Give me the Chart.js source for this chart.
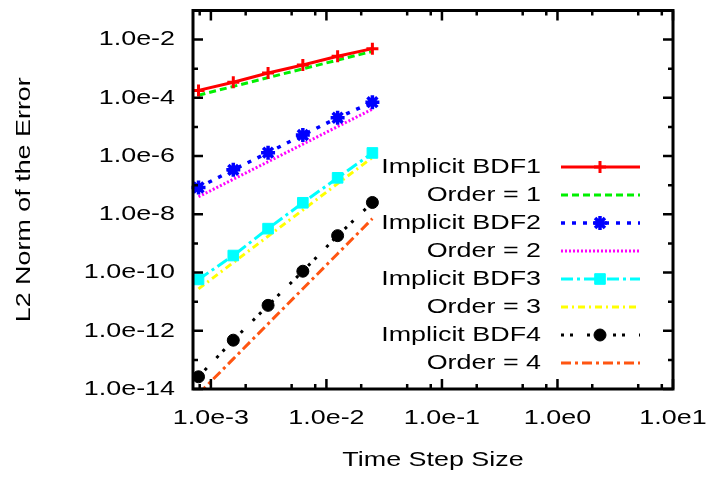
<!DOCTYPE html>
<html>
<head>
<meta charset="utf-8">
<script src="https://cdn.jsdelivr.net/npm/chart.js@4.4.1/dist/chart.umd.min.js"></script>
<style>
  html, body { margin: 0; padding: 0; background: #fff; }
  canvas { display: block; }
</style>
</head>
<body>
<canvas id="errChart" width="711" height="483"></canvas>
<script>
// time step sizes (x) and L2 error for each scheme / reference slope
const stepSizes = [0.00078125, 0.0015625, 0.003125, 0.00625, 0.0125, 0.025];

const bdf1   = [1.8e-4, 3.45e-4, 7.1e-4, 1.35e-3, 2.7e-3, 4.9e-3];
const order1 = [1.23e-4, 2.47e-4, 4.94e-4, 9.9e-4, 1.98e-3, 3.95e-3];
const bdf2   = [8.3e-8, 3.36e-7, 1.31e-6, 5.3e-6, 2.07e-5, 7.1e-5];
const order2 = [4.0e-8, 1.6e-7, 6.4e-7, 2.56e-6, 1.03e-5, 4.1e-5];
const bdf3   = [5.8e-11, 3.84e-10, 3.22e-9, 2.49e-8, 1.79e-7, 1.28e-6];
const order3 = [2.75e-11, 2.2e-10, 1.76e-9, 1.41e-8, 1.13e-7, 9.0e-7];
const bdf4   = [2.63e-14, 4.75e-13, 7.46e-12, 1.11e-10, 1.85e-9, 2.55e-8];
const order4 = [6.75e-15, 1.08e-13, 1.73e-12, 2.77e-11, 4.43e-10, 7.08e-9];

const xTicks = [1e-3, 1e-2, 1e-1, 1e0, 1e1];
const yTicks = [1e-14, 1e-12, 1e-10, 1e-8, 1e-6, 1e-4, 1e-2];

const FONT = '"Liberation Sans", Arial, Helvetica, sans-serif';
const TEXT_STRETCH = 1.28; // the original text is drawn in a wide face

const canvas = document.getElementById('errChart');
const ctx = canvas.getContext('2d');

// widen every text run around its anchor point
const rawFillText = ctx.fillText.bind(ctx);
ctx.fillText = function (txt, x, y) {
    ctx.save();
    ctx.translate(x, y);
    ctx.scale(TEXT_STRETCH, 1);
    rawFillText(txt, 0, 0);
    ctx.restore();
};

function pts(ys) {
    return stepSizes.map((h, i) => ({ x: h, y: ys[i] }));
}

function expLabel(v) {
    return '1.0e' + Math.round(Math.log10(v));
}

function series(label, ys, color, width, dash, marker, radius, fill, markerWidth) {
    return {
        label: label,
        data: pts(ys),
        borderColor: color,
        borderWidth: width,
        borderDash: dash,
        pointStyle: marker || 'circle',
        pointRadius: marker ? radius : 0,
        pointHoverRadius: marker ? radius : 0,
        pointBorderColor: color,
        pointBackgroundColor: fill ? color : 'rgba(0,0,0,0)',
        pointBorderWidth: markerWidth || 1,
        fill: false
    };
}

const datasets = [
    series('Implicit BDF1', bdf1, '#ff0000', 3, [], 'cross', 6, false, 3),
    series('Order = 1', order1, '#00f000', 3, [7, 4]),
    series('Implicit BDF2', bdf2, '#0000ff', 3.5, [4, 7], 'star', 7, false, 3.5),
    series('Order = 2', order2, '#ff00ff', 3, [2, 2]),
    series('Implicit BDF3', bdf3, '#00ffff', 3, [12, 4, 3, 4], 'rect', 7.5, true, 1),
    series('Order = 3', order3, '#ffff00', 3, [7, 4, 2, 4]),
    series('Implicit BDF4', bdf4, '#000000', 3, [3, 6, 3, 14], 'circle', 6, true, 1),
    series('Order = 4', order4, '#ff5511', 3, [10, 4, 3, 4])
];
datasets[7].clip = 0;

// inward tick marks, frame and tick labels (gnuplot style)
const frameTicks = {
    id: 'frameTicks',
    afterDatasetsDraw(chart) {
        const c = chart.ctx;
        const a = chart.chartArea;
        const x = chart.scales.x, y = chart.scales.y;
        c.save();
        c.setLineDash([]);
        c.strokeStyle = '#000';
        c.lineWidth = 2.5;
        c.beginPath();
        for (let e = -14; e <= -1; e++) {
            const py = y.getPixelForValue(Math.pow(10, e));
            const len = e % 2 === 0 ? 10 : 5;
            c.moveTo(a.left, py); c.lineTo(a.left + len, py);
            c.moveTo(a.right, py); c.lineTo(a.right - len, py);
        }
        for (let e = -4; e <= 1; e++) {
            [1, 2, 5, 8].forEach(m => {
                const v = Math.pow(10, e) * m;
                if (v < x.min || v > x.max) return;
                const px = x.getPixelForValue(v);
                const len = m === 1 ? 10 : 5;
                c.moveTo(px, a.bottom); c.lineTo(px, a.bottom - len);
                c.moveTo(px, a.top); c.lineTo(px, a.top + len);
            });
        }
        c.stroke();
        c.lineWidth = 3;
        c.strokeRect(a.left, a.top, a.right - a.left, a.bottom - a.top);

        c.fillStyle = '#000';
        c.font = '21px ' + FONT;
        c.textBaseline = 'middle';
        c.textAlign = 'right';
        yTicks.forEach(v => c.fillText(expLabel(v), a.left - 18, y.getPixelForValue(v)));
        c.textAlign = 'center';
        xTicks.forEach(v => c.fillText(expLabel(v), x.getPixelForValue(v), a.bottom + 29));
        c.restore();
    }
};

const sideLegend = {
    id: 'sideLegend',
    afterDraw(chart) {
        const c = chart.ctx;
        c.save();
        c.font = '21px ' + FONT;
        c.textAlign = 'right';
        c.textBaseline = 'middle';
        chart.data.datasets.forEach((ds, i) => {
            const yy = 167 + 28 * i;
            c.fillStyle = '#000';
            c.fillText(ds.label, 541, yy);

            c.save();
            c.strokeStyle = ds.borderColor;
            c.lineWidth = ds.borderWidth;
            c.setLineDash(ds.borderDash);
            c.beginPath();
            c.moveTo(561, yy);
            c.lineTo(640, yy);
            c.stroke();
            c.restore();

            if (ds.pointRadius > 0) {
                c.save();
                c.setLineDash([]);
                c.strokeStyle = ds.pointBorderColor;
                c.fillStyle = ds.pointBackgroundColor;
                c.lineWidth = ds.pointBorderWidth;
                Chart.helpers.drawPoint(c, {
                    pointStyle: ds.pointStyle,
                    radius: ds.pointRadius,
                    borderWidth: ds.pointBorderWidth,
                    rotation: 0
                }, 600, yy);
                c.restore();
            }
        });
        c.restore();
    }
};

const errChart = new Chart(canvas, {
    type: 'line',
    data: { datasets: datasets },
    options: {
        responsive: false,
        animation: false,
        devicePixelRatio: 1,
        clip: false,
        layout: { padding: { top: 9, right: 38, bottom: 0, left: 0 } },
        plugins: {
            legend: { display: false },
            tooltip: { enabled: false }
        },
        scales: {
            x: {
                type: 'logarithmic',
                min: 7e-4,
                max: 10,
                grid: { display: false },
                border: { display: false },
                afterBuildTicks: (s) => { s.ticks = xTicks.map(v => ({ value: v })); },
                afterFit: (s) => { s.height = 94; s.paddingLeft = 0; s.paddingRight = 0; },
                ticks: { display: false, autoSkip: false },
                title: {
                    display: true,
                    text: 'Time Step Size',
                    color: '#000',
                    font: { family: FONT, size: 21 },
                    padding: { top: 0, bottom: 10 }
                }
            },
            y: {
                type: 'logarithmic',
                min: 1e-14,
                max: 1e-1,
                grid: { display: false },
                border: { display: false },
                afterBuildTicks: (s) => { s.ticks = yTicks.map(v => ({ value: v })); },
                afterFit: (s) => { s.width = 193; s.paddingTop = 0; s.paddingBottom = 0; },
                ticks: { display: false, autoSkip: false },
                title: {
                    display: true,
                    text: 'L2 Norm of the Error',
                    color: '#000',
                    font: { family: FONT, size: 21 },
                    padding: { top: 12, bottom: 0 }
                }
            }
        }
    },
    plugins: [frameTicks, sideLegend]
});
</script>
</body>
</html>
